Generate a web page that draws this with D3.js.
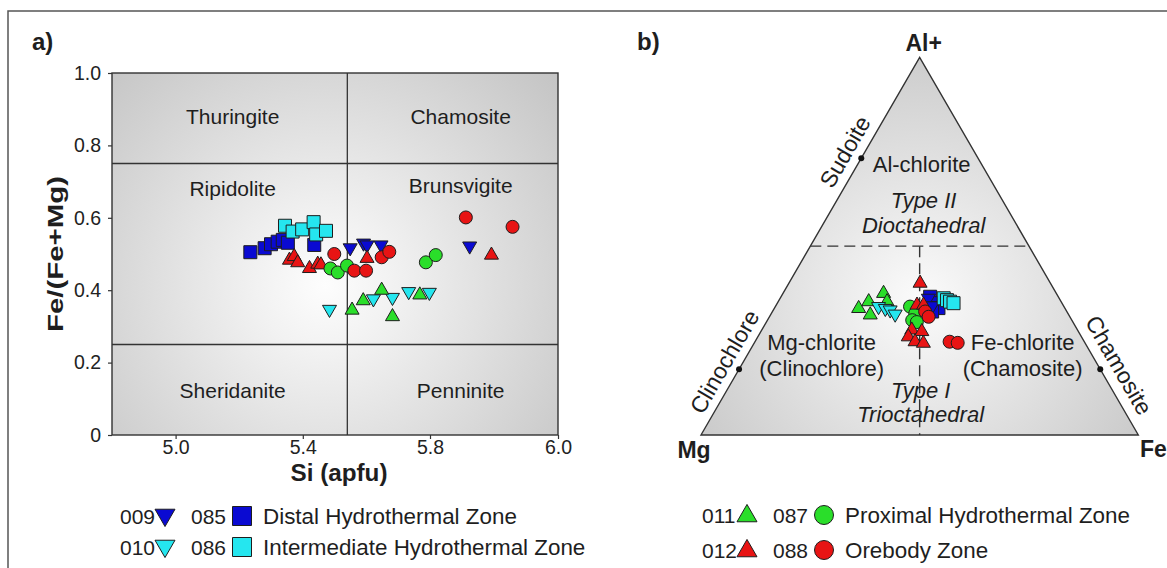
<!DOCTYPE html>
<html>
<head>
<meta charset="utf-8">
<script src="https://cdn.jsdelivr.net/npm/d3@7"></script>
<style>
  html, body { margin: 0; padding: 0; background: #fff; }
  svg { display: block; font-family: "Liberation Sans", Arial, sans-serif; }
</style>
</head>
<body>
<svg id="fig" width="1167" height="568"></svg>
<script>
// ---- Panel a: Si (apfu) vs Fe/(Fe+Mg) ----
const xTicks = [5.0, 5.4, 5.8, 6.0];
const yTicks = [0, 0.2, 0.4, 0.6, 0.8, 1.0];

const si085 = [5.235, 5.280, 5.300, 5.321, 5.337, 5.353, 5.436];
const fe085 = [0.505, 0.516, 0.527, 0.534, 0.539, 0.531, 0.525];
const si086 = [5.344, 5.368, 5.398, 5.434, 5.442, 5.473];
const fe086 = [0.578, 0.562, 0.568, 0.588, 0.554, 0.564];
const si009 = [5.549, 5.591, 5.602, 5.646, 5.862];
const fe009 = [0.517, 0.530, 0.525, 0.525, 0.522];
const si010 = [5.484, 5.622, 5.682, 5.733, 5.798];
const fe010 = [0.347, 0.376, 0.380, 0.396, 0.394];
const si011 = [5.555, 5.590, 5.648, 5.682, 5.768];
const fe011 = [0.345, 0.371, 0.400, 0.327, 0.387];
const si012 = [5.358, 5.373, 5.384, 5.421, 5.447, 5.457, 5.602, 5.896];
const fe012 = [0.483, 0.493, 0.476, 0.460, 0.472, 0.470, 0.488, 0.497];
const si087 = [5.487, 5.510, 5.539, 5.787, 5.809];
const fe087 = [0.460, 0.449, 0.468, 0.477, 0.497];
const si088 = [5.499, 5.562, 5.599, 5.648, 5.672, 5.856, 5.929];
const fe088 = [0.500, 0.454, 0.454, 0.491, 0.506, 0.601, 0.575];

// Hey (1954) field boundaries
const siDivide = 5.54;
const ratioDivides = [0.25, 0.75];
const fieldNames = [
  ["Thuringite", "Chamosite"],
  ["Ripidolite", "Brunsvigite"],
  ["Sheridanite", "Penninite"]
];

// ---- Panel b: Al+ / Mg / Fe ternary (fractions of Al+ and Fe) ----
const al011 = [0.335, 0.353, 0.318, 0.375, 0.353];
const fr011 = [0.193, 0.207, 0.228, 0.230, 0.249];
const al010 = [0.340, 0.335, 0.331, 0.320];
const fr010 = [0.236, 0.254, 0.267, 0.284];
const al087 = [0.340, 0.322, 0.304, 0.299];
const fr087 = [0.308, 0.329, 0.331, 0.344];
const al085 = [0.366, 0.349, 0.336, 0.327];
const fr085 = [0.341, 0.357, 0.375, 0.365];
const al009 = [0.362, 0.342];
const fr009 = [0.339, 0.358];
const al086 = [0.362, 0.357, 0.353, 0.349];
const fr086 = [0.374, 0.384, 0.393, 0.403];
const al012 = [0.402, 0.344, 0.344, 0.278, 0.260, 0.274, 0.247, 0.243];
const fr012 = [0.300, 0.322, 0.337, 0.343, 0.344, 0.368, 0.366, 0.387];
const al088 = [0.327, 0.313, 0.247, 0.244];
const fr088 = [0.349, 0.364, 0.445, 0.465];

const vertexNames = ["Al+", "Mg", "Fe"];
const endMembers = ["Sudoite", "Clinochlore", "Chamosite"];

// sample series: symbol and colour
const series = {
  "009": { shape: "down",   color: "#0a0ad2" },
  "085": { shape: "square", color: "#0a0ad2" },
  "010": { shape: "down",   color: "#25e6ef" },
  "086": { shape: "square", color: "#25e6ef" },
  "011": { shape: "up",     color: "#2ade2a" },
  "087": { shape: "circle", color: "#2ade2a" },
  "012": { shape: "up",     color: "#e81414" },
  "088": { shape: "circle", color: "#e81414" }
};

const legendA = [
  { codes: ["009", "085"], zone: "Distal Hydrothermal Zone" },
  { codes: ["010", "086"], zone: "Intermediate Hydrothermal Zone" }
];
const legendB = [
  { codes: ["011", "087"], zone: "Proximal Hydrothermal Zone" },
  { codes: ["012", "088"], zone: "Orebody Zone" }
];

// ---------------------------------------------------------------
const svg = d3.select("#fig");
const ink = "#1e1e1e";
const lineInk = "#333";

const defs = svg.append("defs");
function radial(id, cx, cy, r, stops) {
  const g = defs.append("radialGradient").attr("id", id)
    .attr("gradientUnits", "userSpaceOnUse")
    .attr("cx", cx).attr("cy", cy).attr("r", r);
  stops.forEach(([o, c]) => g.append("stop").attr("offset", o).attr("stop-color", c));
}

// symbol paths (width in px)
function symbolPath(shape, w) {
  if (shape === "square") return d3.symbol(d3.symbolSquare, w * w)();
  if (shape === "circle") return d3.symbol(d3.symbolCircle, Math.PI * w * w / 4)();
  return d3.symbol(d3.symbolTriangle, Math.sqrt(3) / 4 * w * w)();
}
function drawMarker(g, shape, color, x, y, w) {
  g.append("path")
    .attr("d", symbolPath(shape, w))
    .attr("transform", `translate(${x},${y})` + (shape === "down" ? " rotate(180)" : ""))
    .attr("fill", color)
    .attr("stroke", ink)
    .attr("stroke-width", 1);
}

// figure frame
svg.append("path")
  .attr("d", "M8,570 L8,11 L1170,11")
  .attr("fill", "none").attr("stroke", "#555").attr("stroke-width", 1.5);

// ================= Panel a =================
const xA = d3.scaleLinear().domain([4.8, 5.8, 6.0]).range([112, 430, 558]);
const yA = d3.scaleLinear().domain([0, 1]).range([435, 73]);
const gA = svg.append("g");

radial("gradA", 325, 285, 330, [[0, "#fdfdfd"], [0.2, "#f2f2f2"], [1, "#c1c1c1"]]);

const x0 = xA(4.8), x1 = xA(6.0), yTop = yA(1), yBot = yA(0);
gA.append("rect")
  .attr("x", x0).attr("y", yTop)
  .attr("width", x1 - x0).attr("height", yBot - yTop)
  .attr("fill", "url(#gradA)");

// field boundaries
gA.append("line")
  .attr("x1", xA(siDivide)).attr("x2", xA(siDivide))
  .attr("y1", yTop).attr("y2", yBot)
  .attr("stroke", lineInk).attr("stroke-width", 1.3);
ratioDivides.forEach(v => {
  gA.append("line")
    .attr("x1", x0).attr("x2", x1)
    .attr("y1", yA(v)).attr("y2", yA(v))
    .attr("stroke", lineInk).attr("stroke-width", 1.3);
});

// field names
const rowY = [yA(1) + 51, yA(0.75) + 32, yA(0.25) + 53];
const colX = [(x0 + xA(siDivide)) / 2 + 3, (xA(siDivide) + x1) / 2 + 8];
fieldNames.forEach((row, i) => {
  row.forEach((name, j) => {
    gA.append("text")
      .attr("x", colX[j]).attr("y", rowY[i] + (i === 1 && j === 1 ? -3 : 0))
      .attr("text-anchor", "middle")
      .attr("font-size", 21).attr("fill", ink)
      .text(name);
  });
});

// axes
const axL = gA.append("g").attr("transform", `translate(${x0},0)`)
  .call(d3.axisLeft(yA).tickValues(yTicks).tickSize(4).tickPadding(7)
    .tickFormat(d => d === 0 ? "0" : d3.format(".1f")(d)));
const axB = gA.append("g").attr("transform", `translate(0,${yBot})`)
  .call(d3.axisBottom(xA).tickValues(xTicks).tickSize(4).tickPadding(1.5)
    .tickFormat(d3.format(".1f")));
[axL, axB].forEach(ax => {
  ax.select(".domain").remove();
  ax.selectAll("line").attr("stroke", lineInk).attr("stroke-width", 1.2);
  ax.selectAll("text").attr("font-size", 19.5).attr("fill", "#222")
    .attr("font-family", "Liberation Sans, Arial, sans-serif");
});

// plot border
gA.append("rect")
  .attr("x", x0).attr("y", yTop)
  .attr("width", x1 - x0).attr("height", yBot - yTop)
  .attr("fill", "none").attr("stroke", lineInk).attr("stroke-width", 1.4);

// axis titles
gA.append("text")
  .attr("transform", `translate(63,${(yTop + yBot) / 2}) rotate(-90)`)
  .attr("text-anchor", "middle").attr("font-weight", "bold")
  .attr("font-size", 22).attr("fill", ink)
  .attr("textLength", 156).attr("lengthAdjust", "spacingAndGlyphs")
  .text("Fe/(Fe+Mg)");
gA.append("text")
  .attr("x", (x0 + x1) / 2 + 4).attr("y", 481)
  .attr("text-anchor", "middle").attr("font-weight", "bold")
  .attr("font-size", 23).attr("fill", ink)
  .attr("textLength", 97).attr("lengthAdjust", "spacingAndGlyphs")
  .text("Si (apfu)");
gA.append("text")
  .attr("x", 32).attr("y", 50)
  .attr("font-weight", "bold").attr("font-size", 24).attr("fill", ink)
  .text("a)");

// data points
const pointsA = [
  ["085", si085, fe085], ["086", si086, fe086],
  ["009", si009, fe009], ["010", si010, fe010],
  ["011", si011, fe011], ["012", si012, fe012],
  ["087", si087, fe087], ["088", si088, fe088]
];
const gPtsA = gA.append("g");
pointsA.forEach(([id, xs, ys]) => {
  const s = series[id];
  const w = s.shape === "square" || s.shape === "circle" ? 13 : 14;
  xs.forEach((v, i) => drawMarker(gPtsA, s.shape, s.color, xA(v), yA(ys[i]), w));
});

// ================= Panel b =================
// ternary projection: horizontal position from Fe + Al/2, vertical from Al+
const tx = d3.scaleLinear().domain([0, 1]).range([701, 1138.3]);
const ty = d3.scaleLinear().domain([0, 1]).range([435, 57.3]);
const proj = (al, fe) => [tx(fe + al / 2), ty(al)];
const gB = svg.append("g");

radial("gradB", 920, 300, 285, [[0, "#fbfbfb"], [0.2, "#f0f0f0"], [1, "#c5c5c5"]]);

const pAl = proj(1, 0), pMg = proj(0, 0), pFe = proj(0, 1);
gB.append("path")
  .attr("d", d3.line()([pMg, pAl, pFe]) + "Z")
  .attr("fill", "url(#gradB)")
  .attr("stroke", lineInk).attr("stroke-width", 1.4)
  .attr("stroke-linejoin", "miter");

// Type I / Type II boundary and Fe/(Fe+Mg) = 0.5 divider
const dash = "11,6";
gB.append("line")
  .attr("x1", proj(0.5, 0)[0]).attr("y1", proj(0.5, 0)[1])
  .attr("x2", proj(0.5, 0.5)[0]).attr("y2", proj(0.5, 0.5)[1])
  .attr("stroke", lineInk).attr("stroke-width", 1.4).attr("stroke-dasharray", dash);
gB.append("line")
  .attr("x1", proj(0.5, 0.25)[0]).attr("y1", proj(0.5, 0.25)[1])
  .attr("x2", proj(0, 0.5)[0]).attr("y2", proj(0, 0.5)[1])
  .attr("stroke", lineInk).attr("stroke-width", 1.4).attr("stroke-dasharray", dash);

// vertex labels
const vFont = { "font-weight": "bold", "font-size": 23, "fill": ink };
function styled(sel, o) { Object.entries(o).forEach(([k, v]) => sel.attr(k, v)); return sel; }
styled(gB.append("text").attr("x", pAl[0] + 4).attr("y", pAl[1] - 6)
  .attr("text-anchor", "middle"), vFont).text(vertexNames[0]);
styled(gB.append("text").attr("x", pMg[0] - 7).attr("y", pMg[1] + 23)
  .attr("text-anchor", "middle"), vFont).text(vertexNames[1]);
styled(gB.append("text").attr("x", pFe[0] + 15).attr("y", pFe[1] + 22)
  .attr("text-anchor", "middle"), vFont).text(vertexNames[2]);

// end-member points on the edges, names set along the edges
const emPts = [proj(0.733, 0), proj(0.174, 0), proj(0.174, 1 - 0.174)];
emPts.forEach(p => gB.append("circle").attr("cx", p[0]).attr("cy", p[1]).attr("r", 3).attr("fill", "#111"));
const emLabel = [
  { at: proj(0.75, 0), ang: -60, off: [-20, 0] },
  { at: proj(0.194, 0), ang: -60, off: [-19, 0] },
  { at: proj(0.185, 1 - 0.185), ang: 60, off: [21, 0] }
];
emLabel.forEach((o, i) => {
  gB.append("text")
    .attr("transform", `translate(${o.at[0] + o.off[0]},${o.at[1] + o.off[1]}) rotate(${o.ang})`)
    .attr("text-anchor", "middle").attr("dy", "0.35em")
    .attr("font-size", 23).attr("fill", ink)
    .text(endMembers[i]);
});

// field annotations
const cx = pAl[0];
const notes = [
  ["Al-chlorite", cx + 2, 172, false],
  ["Type II", cx + 4, 208, true],
  ["Dioctahedral", cx + 4, 233, true],
  ["Mg-chlorite", cx - 98, 350, false],
  ["(Clinochlore)", cx - 98, 376, false],
  ["Fe-chlorite", cx + 103, 350, false],
  ["(Chamosite)", cx + 103, 376, false],
  ["Type I", cx + 1, 398, true],
  ["Trioctahedral", cx + 1, 422, true]
];
notes.forEach(([t, x, y, it]) => {
  gB.append("text").attr("x", x).attr("y", y)
    .attr("text-anchor", "middle").attr("font-size", 22)
    .attr("font-style", it ? "italic" : "normal").attr("fill", ink)
    .text(t);
});

gB.append("text").attr("x", 637).attr("y", 50)
  .attr("font-weight", "bold").attr("font-size", 24).attr("fill", ink)
  .text("b)");

// ternary data points
const pointsB = [
  ["011", al011, fr011], ["010", al010, fr010],
  ["087", al087, fr087], ["085", al085, fr085],
  ["009", al009, fr009], ["086", al086, fr086],
  ["012", al012, fr012], ["088", al088, fr088]
];
const gPtsB = gB.append("g");
pointsB.forEach(([id, als, fes]) => {
  const s = series[id];
  const w = s.shape === "square" || s.shape === "circle" ? 13 : 14;
  als.forEach((a, i) => {
    const p = proj(a, fes[i]);
    drawMarker(gPtsB, s.shape, s.color, p[0], p[1], w);
  });
});

// ================= Legends =================
function drawLegend(rows, x, ys) {
  const g = svg.append("g");
  rows.forEach((r, i) => {
    const y = ys[i];
    const s1 = series[r.codes[0]], s2 = series[r.codes[1]];
    g.append("text").attr("x", x).attr("y", y + 8).attr("font-size", 21).attr("fill", ink).text(r.codes[0]);
    drawMarker(g, s1.shape, s1.color, x + 45, y + (s1.shape === "down" ? -1 : 1), 20);
    g.append("text").attr("x", x + 71).attr("y", y + 8).attr("font-size", 21).attr("fill", ink).text(r.codes[1]);
    drawMarker(g, s2.shape, s2.color, x + 122, y, 19);
    g.append("text").attr("x", x + 143).attr("y", y + 8).attr("font-size", 22.4).attr("fill", ink).text(r.zone);
  });
}
drawLegend(legendA, 120, [516, 547]);
drawLegend(legendB, 702, [515, 550]);
</script>
</body>
</html>
